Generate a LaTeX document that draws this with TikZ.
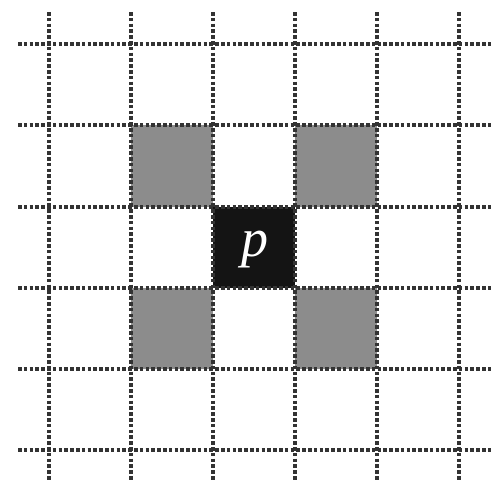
\documentclass[tikz,border=0pt]{standalone}
\usepackage{fontspec}
\setmainfont{Liberation Serif}
\begin{document}
\begin{tikzpicture}[x=1pt,y=-1pt,
  gridline/.style={line width=4.2pt, dash pattern=on 3.6pt off 2.2pt, color=black!80},
  graycell/.style={fill={rgb,255:red,140;green,140;blue,140}, draw=none},
  blackcell/.style={fill=black!92, draw=none}]
\useasboundingbox (0,0) rectangle (501,483);
% cells
\fill[graycell] (131,125) rectangle (213,207);
\fill[graycell] (295,125) rectangle (377,207);
\fill[graycell] (131,288) rectangle (213,369);
\fill[graycell] (295,288) rectangle (377,369);
\fill[blackcell] (213,207) rectangle (295,288);
% grid
\foreach \x in {49,131,213,295,377,459}
  \draw[gridline] (\x,12) -- (\x,480);
\foreach \y in {44,125,207,288,369,450}
  \draw[gridline] (18,\y) -- (491,\y);
\node[anchor=base, text=white, inner sep=0pt, font=\fontsize{54}{54}\selectfont\itshape] (p) at (255,256) {p};
\end{tikzpicture}
\end{document}
